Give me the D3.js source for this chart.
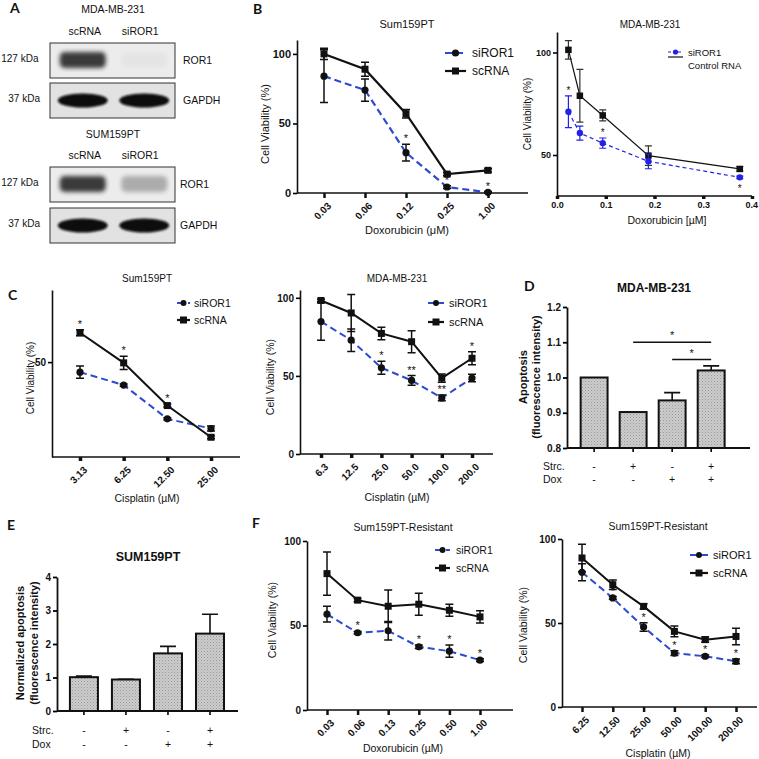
<!DOCTYPE html>
<html><head><meta charset="utf-8">
<script src="https://cdn.jsdelivr.net/npm/d3@7"></script>
<style>body{margin:0;background:#fff}svg{display:block}</style>
</head><body>
<script>
// ---------------- DATA ----------------
// Panel A (western blots): relative band intensities per lane
const blotLanes = ["scRNA", "siROR1"];
const blot231ROR1 = [0.85, 0.03];
const blot231GAPDH = [1, 1];
const blot159ROR1 = [0.85, 0.3];
const blot159GAPDH = [1, 1];

// Panel B left: Sum159PT, doxorubicin
const bLDoses = ["0.03", "0.06", "0.12", "0.25", "1.00"];
const bLSi = [84, 74, 29, 4.3, 0.5];
const bLSiErr = [19, 8, 6, 1, 0.5];
const bLSc = [100, 89, 57, 13.6, 16.3];
const bLScErr = [4, 5, 3, 1.2, 1.2];
const bLSiStars = ["", "", "*", "*", "*"];

// Panel B right: MDA-MB-231, doxorubicin (linear µM)
const bRDoses = [0.0234, 0.0469, 0.0938, 0.1875, 0.375];
const bRSi = [71.1, 60.7, 55.8, 46.9, 39.1];
const bRSiErr = [7.7, 3.4, 2.5, 3.6, 0.6];
const bRCtl = [101.3, 78.9, 69.3, 49.7, 43.2];
const bRCtlErr = [4.5, 12.9, 2.7, 4.8, 1.1];
const bRSiStars = ["*", "", "*", "", "*"];
const bRSiStarSide = ["up", "", "up", "", "down"];
const bRTicks = [0, 0.1, 0.2, 0.3, 0.4];

// Panel C left: Sum159PT, cisplatin
const cLDoses = ["3.13", "6.25", "12.50", "25.00"];
const cLSi = [44.7, 37.9, 20.1, 15.0];
const cLSiErr = [3.2, 0.6, 0.6, 1.3];
const cLSc = [65.5, 49.6, 27.1, 10.4];
const cLScErr = [1.6, 3.5, 0.8, 0.8];
const cLScStars = ["*", "*", "*", ""];

// Panel C right: MDA-MB-231, cisplatin
const cRDoses = ["6.3", "12.5", "25.0", "50.0", "100.0", "200.0"];
const cRSi = [84.8, 72.9, 55.2, 47.1, 35.9, 48.6];
const cRSiErr = [12, 7.2, 4.2, 3.1, 1.8, 2.4];
const cRSc = [98.3, 90.3, 77.2, 71.9, 48.6, 61.3];
const cRScErr = [0.8, 11.8, 4, 7, 2.6, 4.2];
const cRSiStars = ["", "", "*", "**", "**", ""];
const cRScStars = ["", "", "", "", "", "*"];

// Panel D: MDA-MB-231 apoptosis
const dStrc = ["-", "+", "-", "+"];
const dDox = ["-", "-", "+", "+"];
const dVals = [1.0, 0.902, 0.935, 1.02];
const dErr = [0, 0.002, 0.022, 0.013];
const dSigPairs = [[1, 3], [2, 3]];
const dSigLevels = [1.1, 1.051];
const dTicks = [0.8, 0.9, 1.0, 1.1, 1.2];

// Panel E: SUM159PT normalized apoptosis
const eStrc = ["-", "+", "-", "+"];
const eDox = ["-", "-", "+", "+"];
const eVals = [1.01, 0.94, 1.72, 2.31];
const eErr = [0.03, 0.01, 0.21, 0.58];
const eTicks = [0, 1, 2, 3, 4];

// Panel F left: Sum159PT-Resistant, doxorubicin
const fLDoses = ["0.03", "0.06", "0.13", "0.25", "0.50", "1.00"];
const fLSi = [56.7, 45.7, 46.9, 37.4, 34.8, 29.5];
const fLSiErr = [4.7, 0.8, 5.5, 1, 3.6, 0.8];
const fLSc = [80.7, 65, 61.4, 62.6, 59, 55.1];
const fLScErr = [12.8, 1, 9.6, 6.5, 3.6, 3.6];
const fLSiStars = ["", "*", "", "*", "*", "*"];

// Panel F right: Sum159PT-Resistant, cisplatin
const fRDoses = ["6.25", "12.50", "25.00", "50.00", "100.00", "200.00"];
const fRSi = [80.2, 64.9, 47.6, 32.1, 30.2, 27.2];
const fRSiErr = [5, 0.8, 2.5, 1.4, 0.8, 1.4];
const fRSc = [88.7, 72.8, 59.9, 45, 40.1, 42];
const fRScErr = [8.2, 2.8, 1.6, 3.2, 1.6, 4.9];
const fRSiStars = ["", "*", "*", "*", "*", "*"];

// ---------------- DRAWING ----------------
const FONT = "'Liberation Sans', Arial, sans-serif";
const LETTER_FONT = "Lato, 'Open Sans', sans-serif";
const BLUE = "#2c4bd0";
const svg = d3.select("body").append("svg").attr("width", 759).attr("height", 759)
  .style("font-family", FONT);

const defs = svg.append("defs");
[["blurS", 1.2], ["blurM", 2.2], ["blurL", 3]].forEach(([id, s]) => {
  defs.append("filter").attr("id", id).attr("x", "-30%").attr("y", "-60%").attr("width", "160%").attr("height", "220%")
    .append("feGaussianBlur").attr("stdDeviation", s);
});
const pat = defs.append("pattern").attr("id", "dots").attr("width", 3).attr("height", 3).attr("patternUnits", "userSpaceOnUse");
pat.append("rect").attr("width", 3).attr("height", 3).attr("fill", "#cccccc");
pat.append("rect").attr("width", 1).attr("height", 1).attr("fill", "#999999");
pat.append("rect").attr("x", 1.5).attr("y", 1.5).attr("width", 1).attr("height", 1).attr("fill", "#acacac");

function text(g, x, y, s, o = {}) {
  return g.append("text").attr("x", x).attr("y", y).text(s)
    .attr("font-size", o.size || 10.5).attr("font-weight", o.bold ? "bold" : "normal")
    .attr("text-anchor", o.anchor || "middle").attr("fill", o.fill || "#111")
    .attr("font-family", o.family || FONT);
}
function letter(x, y, s) { text(svg, x, y, s, { size: 14, bold: true, anchor: "start", family: LETTER_FONT }); }
function vtext(g, x, cy, s, o = {}) {
  return text(g, 0, 0, s, o).attr("transform", `translate(${x},${cy}) rotate(-90)`).attr("dy", "0.35em");
}

// ---- Panel A ----
letter(10, 13, "A");
function blot(title, titleY, laneY, boxes) {
  const g = svg.append("g");
  const lane = d3.scaleBand().domain(blotLanes).range([52, 175]).paddingInner(0.1).paddingOuter(0.05);
  text(g, 113, titleY, title, { size: 10.5 });
  blotLanes.forEach(l => text(g, lane(l) + lane.bandwidth() / 2 + (l === "scRNA" ? 2 : -4), laneY, l, { size: 10.5 }));
  boxes.forEach(b => {
    g.append("rect").attr("x", 50).attr("y", b.y).attr("width", 125).attr("height", 35)
      .attr("fill", b.bg).attr("stroke", "#333").attr("stroke-width", 1);
    blotLanes.forEach((l, i) => {
      const cx = lane(l) + lane.bandwidth() / 2;
      const v = b.vals[i];
      if (b.kind === "ror") {
        g.append("rect").attr("x", cx - 23).attr("y", b.y + 9).attr("width", 46).attr("height", 16).attr("rx", 5)
          .attr("fill", "#1a1a1a").attr("opacity", v).attr("filter", "url(#blurM)");
      } else {
        g.append("ellipse").attr("cx", cx).attr("cy", b.y + 17.5).attr("rx", 25).attr("ry", 7)
          .attr("fill", "#0a0a0a").attr("opacity", v).attr("filter", "url(#blurS)");
      }
    });
    text(g, b.kind === "ror" ? 38.5 : 40, b.y + 19, b.kda, { size: 10, anchor: "end" });
    text(g, b.labelX, b.y + 21, b.label, { size: 10.5, anchor: "start" });
  });
}
blot("MDA-MB-231", 13, 35, [
  { y: 43, vals: blot231ROR1, kind: "ror", kda: "127 kDa", label: "ROR1", labelX: 183, bg: "#ececec" },
  { y: 83, vals: blot231GAPDH, kind: "gapdh", kda: "37 kDa", label: "GAPDH", labelX: 183, bg: "#e2e2e2" }
]);
blot("SUM159PT", 138, 159, [
  { y: 167, vals: blot159ROR1, kind: "ror", kda: "127 kDa", label: "ROR1", labelX: 180, bg: "#ececec" },
  { y: 208, vals: blot159GAPDH, kind: "gapdh", kda: "37 kDa", label: "GAPDH", labelX: 180, bg: "#e2e2e2" }
]);

// ---- Generic line panel ----
function linePanel(p) {
  const g = svg.append("g");
  const y = d3.scaleLinear().domain(p.yDomain).range([p.bottom, p.top]);
  const x = p.x;
  const ya = g.append("g").attr("transform", `translate(${p.left},0)`)
    .call(d3.axisLeft(y).tickValues(p.yTicks).tickSize(4).tickSizeOuter(0).tickPadding(2).tickFormat(p.yFormat || d3.format("d")));
  ya.select(".domain").attr("stroke-width", 1.6).attr("stroke", "#111");
  ya.selectAll(".tick line").attr("stroke-width", 1.6);
  ya.selectAll("text").attr("font-size", p.yTickSize || p.tickSize || 10).attr("font-weight", "bold").attr("fill", "#111").attr("font-family", FONT);
  g.append("line").attr("x1", p.left).attr("x2", p.right).attr("y1", p.bottom).attr("y2", p.bottom)
    .attr("stroke", "#111").attr("stroke-width", 1.6);
  const xAxis = p.linearX ? d3.axisBottom(x).tickValues(p.xTicks).tickFormat(d3.format(".1f"))
                          : d3.axisBottom(x);
  const xa = g.append("g").attr("transform", `translate(0,${p.bottom})`)
    .call(xAxis.tickSize(p.xTickLen || 5).tickSizeOuter(0).tickPadding(3));
  xa.select(".domain").remove();
  xa.selectAll(".tick line").attr("stroke-width", p.xTickW || 2.5).attr("stroke", "#111");
  xa.selectAll("text").attr("font-size", p.tickSize || 10).attr("font-weight", "bold").attr("fill", "#111").attr("font-family", FONT);
  if (p.rotate) {
    xa.selectAll("text").attr("x", 0).attr("y", 0).attr("dy", "0.35em")
      .attr("transform", "translate(5,11) rotate(-45)").attr("text-anchor", "end");
  }
  if (p.lastTickEnd) xa.selectAll("text").filter((d, i, n) => i === n.length - 1).attr("text-anchor", "end").attr("dx", "0.6em");
  if (p.title) text(g, p.titleX, p.titleY, p.title, { size: p.titleSize || 10.5 });
  text(g, p.xlabX, p.xlabY, p.xlab, { size: p.labSize || 11 });
  vtext(g, p.ylabX, p.ylabY, "Cell Viability (%)", { size: p.ylabSize || 10.5 });

  p.series.forEach(s => {
    const pts = s.xs.map((d, i) => ({ d, v: s.v[i], e: s.e[i], st: s.stars ? s.stars[i] : "", side: s.side ? s.side[i] : "up" }));
    g.append("path").datum(pts)
      .attr("d", d3.line().x(q => x(q.d)).y(q => y(q.v)))
      .attr("fill", "none").attr("stroke", s.color).attr("stroke-width", s.w)
      .attr("stroke-dasharray", s.dash || null);
    pts.forEach(q => {
      if (q.e > 0) {
        const cx = x(q.d), y1 = y(q.v - q.e), y2 = y(q.v + q.e), cw = s.cap || 4;
        g.append("path").attr("d", `M${cx},${y1}V${y2}M${cx - cw},${y1}H${cx + cw}M${cx - cw},${y2}H${cx + cw}`)
          .attr("stroke", s.errColor || "#111").attr("stroke-width", s.errW || 1.5).attr("fill", "none");
      }
      if (s.marker === "circle") {
        g.append("circle").attr("cx", x(q.d)).attr("cy", y(q.v)).attr("r", s.r || 3.5).attr("fill", s.mfill || "#111");
      } else {
        const m = s.msize || 7;
        g.append("rect").attr("x", x(q.d) - m / 2).attr("y", y(q.v) - m / 2).attr("width", m).attr("height", m).attr("fill", s.mfill || "#111");
      }
      if (q.st) {
        const sy = q.side === "down" ? y(q.v - q.e) + 13 : y(q.v + q.e) - 2;
        text(g, x(q.d), sy, q.st, { size: p.starSize || 11 });
      }
    });
  });
  // legend
  p.legend.forEach((l, i) => {
    const ly = p.legY[i];
    g.append("line").attr("x1", p.legX0).attr("x2", p.legX1).attr("y1", ly).attr("y2", ly)
      .attr("stroke", l.color).attr("stroke-width", l.w).attr("stroke-dasharray", l.dash || null);
    const mx = (p.legX0 + p.legX1) / 2;
    if (l.marker === "circle") g.append("circle").attr("cx", mx).attr("cy", ly).attr("r", l.r || 3.5).attr("fill", l.mfill || "#111");
    else if (l.marker === "square") g.append("rect").attr("x", mx - 3.5).attr("y", ly - 3.5).attr("width", 7).attr("height", 7).attr("fill", "#111");
    if (l.label) text(g, p.legTX, ly + (p.legTDy !== undefined ? p.legTDy[i] : 4), l.label, { size: p.legSize || 11, anchor: "start" });
  });
  return g;
}

const siStyle = { color: BLUE, w: 2.2, dash: "7,4", marker: "circle", r: 3.6 };
const scStyle = { color: "#111", w: 2.2, marker: "square", msize: 7 };

// ---- Panel B left ----
letter(253, 14, "B");
linePanel({
  x: d3.scalePoint().domain(bLDoses).range([324, 488]),
  yDomain: [0, 110], yTicks: [0, 50, 100], left: 297, right: 528, top: 40, bottom: 193, rotate: true, yTickSize: 11,
  title: "Sum159PT", titleX: 407, titleY: 28, titleSize: 11,
  xlab: "Doxorubicin (μM)", xlabX: 407, xlabY: 234, ylabX: 265, ylabY: 124, ylabSize: 11,
  series: [
    { ...scStyle, xs: bLDoses, v: bLSc, e: bLScErr },
    { ...siStyle, xs: bLDoses, v: bLSi, e: bLSiErr, stars: bLSiStars }
  ],
  legend: [{ ...siStyle, label: "siROR1" }, { ...scStyle, label: "scRNA" }],
  legX0: 445, legX1: 466, legY: [53, 71], legTX: 472, legSize: 12
});

// ---- Panel B right ----
const bBlue = "#2222e6";
linePanel({
  x: d3.scaleLinear().domain([0, 0.4]).range([557, 752]), linearX: true, xTicks: bRTicks,
  yDomain: [30, 110], yTicks: [50, 100], left: 557, right: 752, top: 32, bottom: 196, xTickLen: 3, xTickW: 3.5, tickSize: 9,
  title: "MDA-MB-231", titleX: 650, titleY: 28, titleSize: 10,
  xlab: "Doxorubicin [µM]", xlabX: 667, xlabY: 224, labSize: 10.5, ylabX: 527, ylabY: 114, ylabSize: 10,
  starSize: 10, lastTickEnd: true,
  series: [
    { color: "#111", w: 1.2, marker: "square", msize: 6.5, xs: bRDoses, v: bRCtl, e: bRCtlErr, errColor: "#333", errW: 1.2, cap: 3.5 },
    { color: bBlue, w: 1.2, dash: "4,3", marker: "circle", r: 3.2, mfill: bBlue, xs: bRDoses, v: bRSi, e: bRSiErr,
      errColor: bBlue, errW: 1.2, cap: 3.5, stars: bRSiStars, side: bRSiStarSide }
  ],
  legend: [
    { color: bBlue, w: 1.2, dash: "3,2", marker: "circle", r: 2.6, mfill: bBlue, label: "siROR1" },
    { color: "#111", w: 1.2, label: "" }
  ],
  legX0: 668, legX1: 683, legY: [52, 57], legTX: 688, legTDy: [3.5, 0], legSize: 9.5
});
text(svg, 688, 69, "Control RNA", { size: 9.5, anchor: "start" });

// ---- Panel C left ----
letter(8, 300, "C");
linePanel({
  x: d3.scalePoint().domain(cLDoses).range([80, 211]),
  yDomain: [0, 88], yTicks: [50], left: 52, right: 240, top: 290, bottom: 457, rotate: true, xTickLen: 4, xTickW: 3.5,
  title: "Sum159PT", titleX: 147, titleY: 282, titleSize: 10,
  xlab: "Cisplatin (µM)", xlabX: 147, xlabY: 502, labSize: 10.5, ylabX: 30, ylabY: 378, ylabSize: 10,
  series: [
    { ...siStyle, w: 2, xs: cLDoses, v: cLSi, e: cLSiErr },
    { ...scStyle, w: 2, xs: cLDoses, v: cLSc, e: cLScErr, stars: cLScStars }
  ],
  legend: [{ ...siStyle, w: 2, r: 3, label: "siROR1" }, { ...scStyle, label: "scRNA" }],
  legX0: 177, legX1: 190, legY: [303, 320], legTX: 194, legSize: 10.5
});

// ---- Panel C right ----
linePanel({
  x: d3.scalePoint().domain(cRDoses).range([321, 472]),
  yDomain: [0, 105], yTicks: [0, 50, 100], left: 300, right: 493, top: 290, bottom: 454, rotate: true, xTickLen: 4, xTickW: 3.5,
  title: "MDA-MB-231", titleX: 397, titleY: 282, titleSize: 10,
  xlab: "Cisplatin (µM)", xlabX: 397, xlabY: 501, labSize: 10.5, ylabX: 270, ylabY: 377, ylabSize: 10.5,
  series: [
    { ...scStyle, w: 2, xs: cRDoses, v: cRSc, e: cRScErr, stars: cRScStars },
    { ...siStyle, w: 2, xs: cRDoses, v: cRSi, e: cRSiErr, stars: cRSiStars }
  ],
  legend: [{ ...siStyle, w: 2, r: 3, label: "siROR1" }, { ...scStyle, label: "scRNA" }],
  legX0: 428, legX1: 444, legY: [303, 322], legTX: 449, legSize: 11
});

// ---- Bar panels ----
function barPanel(p) {
  const g = svg.append("g");
  const y = d3.scaleLinear().domain(p.yDomain).range([p.bottom, p.top]);
  const x = d3.scaleBand().domain(d3.range(p.vals.length)).range([p.left, p.right])
    .paddingInner(p.padIn).paddingOuter(p.padOut).align(p.align);
  const ya = g.append("g").attr("transform", `translate(${p.left},0)`)
    .call(d3.axisLeft(y).tickValues(p.ticks).tickSize(4).tickSizeOuter(0).tickPadding(2).tickFormat(p.fmt));
  ya.select(".domain").attr("stroke-width", 1.8).attr("stroke", "#111");
  ya.selectAll(".tick line").attr("stroke-width", 1.8);
  ya.selectAll("text").attr("font-size", 10).attr("font-weight", "bold").attr("fill", "#111").attr("font-family", FONT);
  const xa = g.append("g").attr("transform", `translate(0,${p.bottom})`)
    .call(d3.axisBottom(x).tickSize(4).tickSizeOuter(0).tickFormat(""));
  xa.select(".domain").remove();
  xa.selectAll(".tick line").attr("stroke-width", 1.6);
  g.append("line").attr("x1", p.left).attr("x2", p.right).attr("y1", p.bottom).attr("y2", p.bottom)
    .attr("stroke", "#111").attr("stroke-width", 1.8);
  p.vals.forEach((v, i) => {
    const cx = x(i) + x.bandwidth() / 2;
    if (p.errs[i] > 0.003) {
      g.append("path").attr("d", `M${cx},${y(v)}V${y(v + p.errs[i])}M${cx - 8},${y(v + p.errs[i])}H${cx + 8}`)
        .attr("stroke", "#111").attr("stroke-width", 1.6).attr("fill", "none");
    }
    g.append("rect").attr("x", x(i)).attr("y", y(v)).attr("width", x.bandwidth()).attr("height", p.bottom - y(v))
      .attr("fill", "url(#dots)").attr("stroke", "#111").attr("stroke-width", 2);
    text(g, cx, p.rowY[0], p.strc[i], { size: 10.5 });
    text(g, cx, p.rowY[1], p.dox[i], { size: 10.5 });
  });
  text(g, p.rowX, p.rowY[0], "Strc.", { size: 10.5, anchor: "start" });
  text(g, p.rowX, p.rowY[1], "Dox", { size: 10.5, anchor: "start" });
  text(g, p.titleX, p.titleY, p.title, { size: p.titleSize, bold: true });
  vtext(g, p.ylabX[0], p.ylabY, p.ylab[0], { size: 11, bold: true });
  vtext(g, p.ylabX[1], p.ylabY, p.ylab[1], { size: 11, bold: true });
  return { g, x, y };
}

// ---- Panel D ----
letter(524, 291, "D");
const D = barPanel({
  vals: dVals, errs: dErr, strc: dStrc, dox: dDox, yDomain: [0.8, 1.2], ticks: dTicks, fmt: d3.format(".1f"),
  left: 567, right: 750, top: 307, bottom: 448, padIn: 0.31, padOut: 0.5, align: 0.35,
  rowX: 543, rowY: [470, 483], title: "MDA-MB-231", titleX: 654, titleY: 292, titleSize: 12,
  ylab: ["Apoptosis", "(fluorescence intensity)"], ylabX: [523, 536], ylabY: 377
});
dSigPairs.forEach(([a, b], k) => {
  const x1 = D.x(a) + D.x.bandwidth() / 2, x2 = D.x(b) + D.x.bandwidth() / 2, yy = D.y(dSigLevels[k]);
  D.g.append("line").attr("x1", x1).attr("x2", x2).attr("y1", yy).attr("y2", yy).attr("stroke", "#111").attr("stroke-width", 1.6);
  text(D.g, (x1 + x2) / 2, yy - 3, "*", { size: 11 });
});

// ---- Panel E ----
letter(7, 530, "E");
barPanel({
  vals: eVals, errs: eErr, strc: eStrc, dox: eDox, yDomain: [0, 4], ticks: eTicks, fmt: d3.format("d"),
  left: 57, right: 238, top: 577, bottom: 711, padIn: 0.333, padOut: 0.32, align: 0.48,
  rowX: 32, rowY: [734, 748], title: "SUM159PT", titleX: 148, titleY: 561, titleSize: 12.5,
  ylab: ["Normalized apoptosis", "(fluorescence intensity)"], ylabX: [20, 34], ylabY: 643
});

// ---- Panel F left ----
letter(252, 528, "F");
linePanel({
  x: d3.scalePoint().domain(fLDoses).range([327, 480]),
  yDomain: [0, 100], yTicks: [0, 50, 100], left: 307, right: 513, top: 541, bottom: 710, rotate: true,
  title: "Sum159PT-Resistant", titleX: 403, titleY: 531, titleSize: 10.5,
  xlab: "Doxorubicin (µM)", xlabX: 403, xlabY: 752, labSize: 10.5, ylabX: 272, ylabY: 620, ylabSize: 10.5,
  series: [
    { ...scStyle, w: 2, xs: fLDoses, v: fLSc, e: fLScErr },
    { ...siStyle, w: 2, xs: fLDoses, v: fLSi, e: fLSiErr, stars: fLSiStars }
  ],
  legend: [{ ...siStyle, w: 2, r: 3, label: "siROR1" }, { ...scStyle, label: "scRNA" }],
  legX0: 435, legX1: 450, legY: [550, 568], legTX: 456, legSize: 10.5
});

// ---- Panel F right ----
linePanel({
  x: d3.scalePoint().domain(fRDoses).range([582, 736]),
  yDomain: [0, 100], yTicks: [0, 50, 100], left: 562, right: 757, top: 539, bottom: 707, rotate: true,
  title: "Sum159PT-Resistant", titleX: 658, titleY: 530, titleSize: 10.5,
  xlab: "Cisplatin (µM)", xlabX: 658, xlabY: 757, labSize: 10.5, ylabX: 523, ylabY: 625, ylabSize: 10.5,
  series: [
    { ...scStyle, w: 2, xs: fRDoses, v: fRSc, e: fRScErr },
    { ...siStyle, w: 2, xs: fRDoses, v: fRSi, e: fRSiErr, stars: fRSiStars }
  ],
  legend: [{ ...siStyle, w: 2, r: 3, label: "siROR1" }, { ...scStyle, label: "scRNA" }],
  legX0: 690, legX1: 708, legY: [555, 573], legTX: 713, legSize: 11
});
</script>
</body></html>
